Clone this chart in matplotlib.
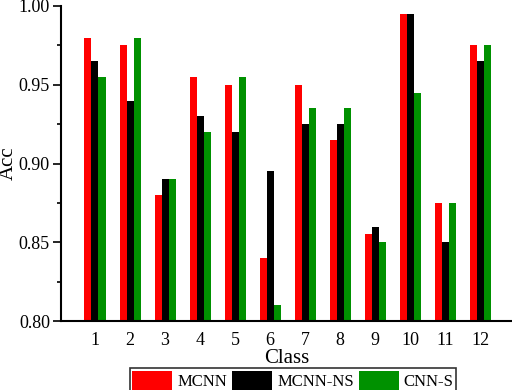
import numpy as np
import matplotlib.pyplot as plt

plt.rcParams['font.family'] = ['Liberation Serif', 'DejaVu Serif']

classes = ['1', '2', '3', '4', '5', '6', '7', '8', '9', '10', '11', '12']
mcnn = [0.980, 0.975, 0.880, 0.955, 0.950, 0.840, 0.950, 0.915, 0.855, 0.995, 0.875, 0.975]
mcnn_ns = [0.965, 0.940, 0.890, 0.930, 0.920, 0.895, 0.925, 0.925, 0.860, 0.995, 0.850, 0.965]
cnn_s = [0.955, 0.980, 0.890, 0.920, 0.955, 0.810, 0.935, 0.935, 0.850, 0.945, 0.875, 0.975]

ind = np.arange(1, len(classes) + 1)
width = 0.2

fig = plt.figure(figsize=(5.12, 3.9), dpi=100)
ax = fig.add_axes([61 / 512, 69 / 390, 1 - 61 / 512, 315 / 390])

r1 = ax.bar(ind - width, mcnn, width, color='#ff0000')
r2 = ax.bar(ind, mcnn_ns, width, color='#000000')
r3 = ax.bar(ind + width, cnn_s, width, color='#009100')

ax.set_ylim(0.80, 1.00)
ax.set_xlim(0.03, 12.9)
ax.set_yticks([0.80, 0.85, 0.90, 0.95, 1.00])
ax.set_yticks(np.arange(0.825, 1.0, 0.05), minor=True)
ax.set_xticks(ind)
ax.set_xticklabels(classes)

ax.spines['top'].set_visible(False)
ax.spines['right'].set_visible(False)
ax.spines['left'].set_linewidth(1.5)
ax.spines['bottom'].set_linewidth(1.5)
ax.tick_params(axis='y', which='major', length=6, width=1.2, labelsize=13, pad=2)
ax.tick_params(axis='y', which='minor', length=3, width=1.2)
ax.tick_params(axis='x', length=0, labelsize=13, pad=8)

ax.set_ylabel('Acc', fontsize=15, labelpad=0)
ax.yaxis.set_label_coords(-0.095, 0.5)
ax.set_xlabel('Class', fontsize=15, labelpad=0)

leg = fig.legend((r1[0], r2[0], r3[0]), ('MCNN', 'MCNN-NS', 'CNN-S'),
                 loc='upper center', bbox_to_anchor=(293 / 512, 1 - 368 / 390),
                 ncol=3, fontsize=12, frameon=True, fancybox=False,
                 edgecolor='black', handlelength=2.4, handleheight=1.5,
                 handletextpad=0.3, columnspacing=0.3, borderpad=0.15,
                 borderaxespad=0)
leg.get_frame().set_linewidth(1.2)

fig.savefig('out.png', dpi=100)
